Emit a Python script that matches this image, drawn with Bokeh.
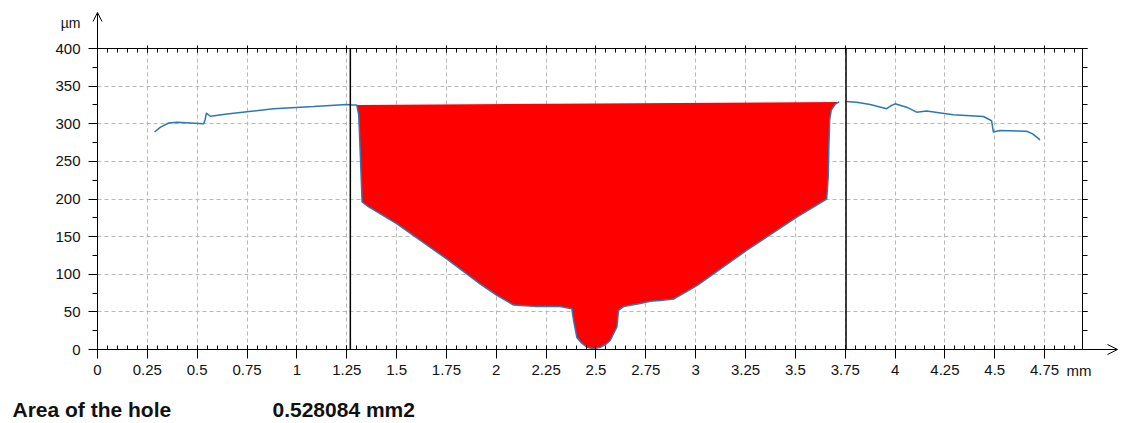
from bokeh.plotting import figure
from bokeh.models import (Range1d, SingleIntervalTicker, LinearAxis, Arrow,
                          OpenHead, Label, CustomJSTickFormatter, Grid)
from bokeh.embed import file_html
from bokeh.resources import INLINE

# ---- data ----
left_x = [0.286, 0.316, 0.357, 0.400, 0.466, 0.533, 0.540, 0.546, 0.566, 0.650, 0.750, 0.884, 1.084, 1.250, 1.277]
left_y = [289, 295.5, 301, 302, 301, 300, 306, 314, 310, 313, 316, 320, 323, 325.6, 325]

hole_x = [1.300, 1.310, 1.318, 1.327, 1.352, 1.502, 1.753, 1.920, 2.003, 2.087, 2.204, 2.320, 2.379,
          2.388, 2.404, 2.430, 2.455, 2.488, 2.521, 2.550, 2.571, 2.605, 2.613, 2.638, 2.722, 2.772,
          2.822, 2.889, 3.006, 3.257, 3.507, 3.657, 3.665, 3.668, 3.672, 3.680, 3.700, 3.720]
hole_y = [325, 312, 260, 196, 191, 167, 120, 87, 72, 59, 57, 57, 54,
          38, 16, 8, 3, 1, 3, 7, 12, 30, 52, 57, 61, 64,
          65, 67, 85, 132, 176, 200, 230, 270, 305, 318, 326, 329]

right_x = [3.757, 3.807, 3.875, 3.958, 3.980, 4.000, 4.058, 4.108, 4.158, 4.292, 4.443, 4.484, 4.493,
           4.526, 4.660, 4.690, 4.727]
right_y = [329.6, 328.7, 325.6, 320, 324, 326.5, 322, 315.4, 316.8, 312, 309.6, 304, 289,
           291, 290, 286.6, 278.6]

cursor_x = [1.268, 3.754]
area_label = "Area of the hole"
area_value = "0.528084 mm2"
x_unit = "mm"
y_unit = "µm"

X0, X1 = 0.0, 4.94     # plot box in data units
Y0, Y1 = 0.0, 400.0

FONT = "Liberation Sans"
W, H = 1122, 423
# box at pixels x 97..1082, y 48..349
sx = (1082 - 97) / (X1 - X0)
sy = (349 - 48) / (Y1 - Y0)
xr = Range1d(X0 - 97 / sx, X1 + (W - 1082) / sx)
yr = Range1d(Y0 - (H - 349) / sy, Y1 + 48 / sy)

p = figure(width=W, height=H, output_backend="svg", toolbar_location=None,
           x_range=xr, y_range=yr, min_border=0,
           x_axis_location=None, y_axis_location=None)
p.background_fill_color = "white"
p.border_fill_color = "white"
p.outline_line_color = None

xt = SingleIntervalTicker(interval=0.25, num_minor_ticks=5)
yt = SingleIntervalTicker(interval=50, num_minor_ticks=2)
fmt = CustomJSTickFormatter(code="return String(Math.round(tick*100)/100);")

def style(ax):
    ax.axis_line_color = "black"
    ax.major_tick_line_color = "black"
    ax.minor_tick_line_color = "black"
    ax.major_label_text_font = FONT
    ax.major_label_text_font_size = "15px"
    ax.major_label_text_color = "#111111"

bx = LinearAxis(ticker=xt, formatter=fmt, fixed_location=Y0, bounds=(X0, X1))
style(bx)
bx.major_tick_out = 9; bx.major_tick_in = 4
bx.minor_tick_out = 0; bx.minor_tick_in = 4
bx.major_label_standoff = 6
p.add_layout(bx, "below")

ly = LinearAxis(ticker=yt, fixed_location=X0, bounds=(Y0, Y1))
style(ly)
ly.major_tick_out = 9; ly.major_tick_in = 0
ly.minor_tick_out = 5; ly.minor_tick_in = 0
ly.major_label_standoff = 8
p.add_layout(ly, "left")

tx = LinearAxis(ticker=xt, fixed_location=Y1, bounds=(X0, X1))
style(tx)
tx.major_tick_out = 3; tx.major_tick_in = 4
tx.minor_tick_out = 0; tx.minor_tick_in = 4
tx.major_label_text_color = None
p.add_layout(tx, "above")

ry = LinearAxis(ticker=yt, fixed_location=X1, bounds=(Y0, Y1))
style(ry)
ry.major_tick_out = 5; ry.major_tick_in = 0
ry.minor_tick_out = 5; ry.minor_tick_in = 0
ry.major_label_text_color = None
p.add_layout(ry, "right")

GRID_COLOR = "#b8b8b8"
if "cross_bounds" in Grid.properties():
    p.xgrid.ticker = xt
    p.ygrid.ticker = yt
    p.xgrid.bounds = (X0, X1)
    p.ygrid.bounds = (Y0, Y1)
    p.xgrid.cross_bounds = (Y0, Y1)
    p.ygrid.cross_bounds = (X0, X1)
    for g in (p.xgrid, p.ygrid):
        g.grid_line_color = GRID_COLOR
        g.grid_line_dash = "4 3"
        g.grid_line_width = 1
else:
    p.xgrid.visible = False
    p.ygrid.visible = False
    gx = [0.25 * i for i in range(1, 20)]
    gy = [50.0 * i for i in range(1, 8)]
    p.segment(x0=gx, y0=[Y0] * len(gx), x1=gx, y1=[Y1] * len(gx),
              line_color=GRID_COLOR, line_dash="4 3", line_width=1)
    p.segment(x0=[X0] * len(gy), y0=gy, x1=[X1] * len(gy), y1=gy,
              line_color=GRID_COLOR, line_dash="4 3", line_width=1)

# red hole area
p.patch(hole_x, hole_y, fill_color="#ff0000", line_color=None)
# profile
p.line(left_x + hole_x, left_y + hole_y, line_color="#2b78b5", line_width=1.5)
p.line(right_x, right_y, line_color="#2b78b5", line_width=1.5)

# cursor lines, limited to the plot box
p.segment(x0=cursor_x, y0=[Y0] * len(cursor_x), x1=cursor_x, y1=[Y1] * len(cursor_x),
          line_color="black", line_width=1.5)

# axis arrows
p.add_layout(Arrow(x_start=X0, y_start=Y1, x_end=X0, y_end=Y1 + (48 - 12) / sy,
                   line_color="black", line_width=1,
                   end=OpenHead(size=9, line_color="black", line_width=1)))
p.add_layout(Arrow(x_start=X1, y_start=Y0, x_end=X1 + (1117 - 1082) / sx, y_end=Y0,
                   line_color="black", line_width=1,
                   end=OpenHead(size=10, line_color="black", line_width=1)))

p.add_layout(Label(x=X0, y=Y1 + (48 - 22) / sy, x_offset=-17, text=y_unit, text_align="right",
                   text_baseline="middle", text_font=FONT, text_font_size="14px", text_color="#111111"))
p.add_layout(Label(x=X0 + (1066 - 97) / sx, y=Y0 - (370 - 349) / sy, text=x_unit, text_align="left",
                   text_baseline="middle", text_font=FONT, text_font_size="15px", text_color="#111111"))

p.add_layout(Label(x=X0 - (97 - 12) / sx, y=Y0 - (409 - 349) / sy, text=area_label, text_align="left",
                   text_baseline="middle", text_font=FONT, text_font_size="21px",
                   text_font_style="bold", text_color="#111111"))
p.add_layout(Label(x=X0 + (272 - 97) / sx, y=Y0 - (409 - 349) / sy, text=area_value, text_align="left",
                   text_baseline="middle", text_font=FONT, text_font_size="21px",
                   text_font_style="bold", text_color="#111111"))

open("out.html", "w").write(file_html(p, INLINE))
